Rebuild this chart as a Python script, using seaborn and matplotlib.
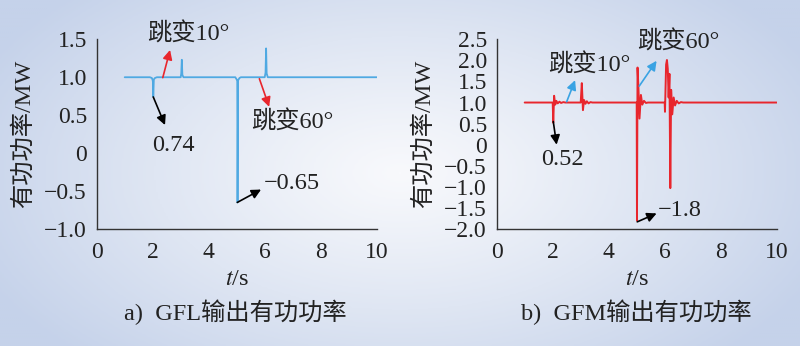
import numpy as np
import pandas as pd
import matplotlib
matplotlib.use("Agg")
import matplotlib.pyplot as plt
import seaborn as sns
from matplotlib.colors import LinearSegmentedColormap

# ---------------- data ----------------
gfl_t = [1.0, 1.9, 1.97, 2.0, 2.01, 2.02, 2.04, 2.08, 2.15,
         3.0, 3.02, 3.04, 3.06, 3.1,
         4.95, 5.0, 5.02, 5.03, 5.05, 5.1, 5.15,
         6.0, 6.03, 6.05, 6.07, 6.11, 10.0]
gfl_p = [1.0, 1.0, 0.99, 0.96, 0.93, 0.74, 0.97, 0.99, 1.0,
         1.0, 1.05, 1.23, 1.03, 1.0,
         1.0, 0.97, 0.95, -0.65, 0.96, 0.99, 1.0,
         1.0, 1.06, 1.38, 1.05, 1.0, 1.0]

gfm_t = [1.0, 2.0, 2.02, 2.05, 2.09, 2.13, 2.18, 2.24, 2.3, 2.38, 2.45,
         3.0, 3.04, 3.08, 3.12, 3.17, 3.22, 3.28, 3.35, 3.42,
         5.0, 5.01, 5.03, 5.06, 5.1, 5.15, 5.2, 5.26, 5.33, 5.4,
         6.0, 6.01, 6.05, 6.08, 6.11, 6.14, 6.17, 6.2, 6.23,
         6.27, 6.32, 6.37, 6.43, 6.5, 6.58, 6.66, 10.0]
gfm_p = [1.0, 1.0, 0.52, 1.16, 0.95, 1.04, 0.98, 1.02, 0.99, 1.01, 1.0,
         1.0, 1.46, 0.82, 1.06, 0.97, 1.03, 0.98, 1.01, 1.0,
         1.0, -1.8, 1.83, 1.38, 0.62, 1.18, 0.95, 1.04, 0.99, 1.0,
         1.0, 0.78, 1.9, 2.01, 1.8, 1.12, 1.68, -1.03, 1.3,
         0.72, 1.12, 0.93, 1.04, 0.98, 1.01, 1.0, 1.0]

x_ticks = [0, 2, 4, 6, 8, 10]
left_yticks = [-1.0, -0.5, 0, 0.5, 1.0, 1.5]
left_ylabels = ["\u22121.0", "\u22120.5", "0", "0.5", "1.0", "1.5"]
right_yticks = [-2.0, -1.5, -1.0, -0.5, 0, 0.5, 1.0, 1.5, 2.0, 2.5]
right_ylabels = ["\u22122.0", "\u22121.5", "\u22121.0", "\u22120.5", "0",
                 "0.5", "1.0", "1.5", "2.0", "2.5"]

# ---------------- style ----------------
sns.set_theme(style="white")
plt.rcParams["font.family"] = ["Liberation Serif", "Noto Sans CJK SC"]
plt.rcParams["mathtext.fontset"] = "stix"
plt.rcParams["axes.unicode_minus"] = True

DARK = "#333333"
BLUE = "#4fa9e2"
RED = "#e8262d"
ARROW_BLUE = "#3aa3e3"

fig = plt.figure(figsize=(8, 3.46), dpi=100)

# background gradient
bg = fig.add_axes([0, 0, 1, 1], zorder=-10)
gx, gy = np.meshgrid(np.linspace(0, 1, 400), np.linspace(0, 1, 200))
d = np.sqrt(((gx - 0.5) / 0.5) ** 2 * 0.75 + ((gy - 0.5) / 0.5) ** 2 * 0.45)
d = np.clip(d, 0, 1) ** 1.1
cmap = LinearSegmentedColormap.from_list("bg", ["#f8f9fc", "#dfe6f3", "#c5d2ea"])
bg.imshow(d, cmap=cmap, aspect="auto", extent=[0, 1, 0, 1], vmin=0, vmax=1)
bg.axis("off")

axL = fig.add_axes([96.7 / 800, (346 - 229) / 346, 280 / 800, 189.7 / 346])
axR = fig.add_axes([496.7 / 800, (346 - 229) / 346, 280 / 800, 189.7 / 346])

dfL = pd.DataFrame({"t": gfl_t, "P": gfl_p})
dfR = pd.DataFrame({"t": gfm_t, "P": gfm_p})
sns.lineplot(data=dfL, x="t", y="P", ax=axL, color=BLUE, lw=1.3, estimator=None, sort=False)
sns.lineplot(data=dfR, x="t", y="P", ax=axR, color=RED, lw=1.4, estimator=None, sort=False)

for ax, yt, yl, ylim in [(axL, left_yticks, left_ylabels, (-1.0, 1.5)),
                         (axR, right_yticks, right_ylabels, (-2.0, 2.5))]:
    ax.set_facecolor("none")
    ax.set_xlim(0, 10)
    ax.set_ylim(*ylim)
    ax.set_xticks(x_ticks)
    ax.set_xticklabels([str(v) for v in x_ticks])
    ax.set_yticks(yt)
    ax.set_yticklabels(yl)
    for s in ["top", "right"]:
        ax.spines[s].set_visible(False)
    for s in ["left", "bottom"]:
        ax.spines[s].set_color(DARK)
        ax.spines[s].set_linewidth(1.0)
    ax.tick_params(axis="both", direction="in", length=5, width=1.0, color=DARK,
                   labelsize=17, labelcolor="#222222")
    ax.tick_params(axis="x", pad=9)
    ax.tick_params(axis="y", pad=7)
    ax.set_xlabel("$t$/s", fontsize=17.5, color="#222222")
    ax.xaxis.set_label_coords(0.5, -0.265)
    ax.xaxis.label.set_va("center")
    ax.set_ylabel("有功功率/MW", fontsize=17.5, color="#222222")
    ax.yaxis.set_label_coords(-0.262, 0.5)
    ax.yaxis.label.set_va("center")


def arrow(ax, text, xy, xytext, color):
    ax.annotate(text, xy=xy, xytext=xytext,
                arrowprops=dict(arrowstyle="-|>", color=color, lw=1.2,
                                mutation_scale=14, shrinkA=0, shrinkB=0))


tk = dict(fontsize=17.5, color="#222222", va="center", ha="left")

# left annotations
axL.text(1.80, 1.57, "跳变10°", **tk)
arrow(axL, "", (2.62, 1.36), (2.36, 0.995), RED)
axL.text(1.97, 0.10, "0.74", **tk)
arrow(axL, "", (2.44, 0.37), (2.02, 0.74), "black")
axL.text(5.52, 0.41, "跳变60°", **tk)
arrow(axL, "", (6.16, 0.61), (5.81, 0.98), RED)
axL.text(5.95, -0.40, "\u22120.65", **tk)
arrow(axL, "", (5.87, -0.48), (5.02, -0.65), "black")

# right annotations
axR.text(1.84, 1.89, "跳变10°", **tk)
arrow(axR, "", (2.80, 1.53), (2.50, 1.02), ARROW_BLUE)
axR.text(1.60, -0.34, "0.52", **tk)
arrow(axR, "", (2.14, 0.0), (2.02, 0.55), "black")
axR.text(5.0, 2.44, "跳变60°", **tk)
arrow(axR, "", (5.71, 1.99), (5.09, 1.39), ARROW_BLUE)
axR.text(5.77, -1.55, "\u22121.8", **tk)
arrow(axR, "", (5.71, -1.63), (5.02, -1.83), "black")

# captions
fig.text(235 / 800, 1 - 312 / 346, "a)  GFL输出有功功率", fontsize=17.5,
         ha="center", va="center", color="#222222")
fig.text(636 / 800, 1 - 312 / 346, "b)  GFM输出有功功率", fontsize=17.5,
         ha="center", va="center", color="#222222")

fig.savefig("out.png", dpi=100)
